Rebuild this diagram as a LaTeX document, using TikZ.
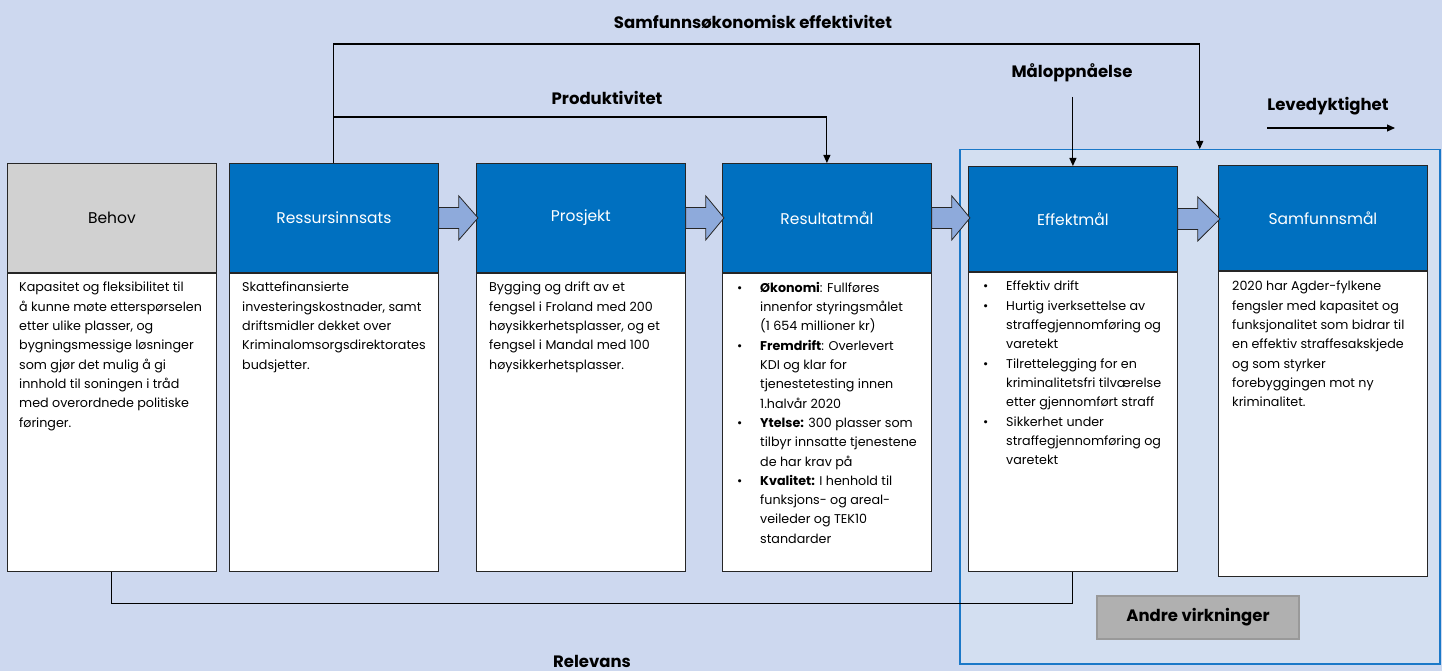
\documentclass[tikz,border=0pt]{standalone}
\usepackage{fontspec}
\setmainfont{Poppins}
\newfontfamily\lblfont{Poppins}
\usetikzlibrary{arrows.meta,calc}
\definecolor{bgc}{HTML}{CDD8EF}
\definecolor{innerbg}{HTML}{D3DFF1}
\definecolor{frameblue}{HTML}{1A78C8}
\definecolor{hdrblue}{HTML}{0070C0}
\definecolor{hdrgray}{HTML}{D1D1D1}
\definecolor{arrfill}{HTML}{8EAADB}
\definecolor{andregray}{HTML}{B0B0B0}
\definecolor{andreborder}{HTML}{999999}
\newcommand\blockarr[2]{%
  \draw[blockarrow] ($(#1.east)+(0,-10.5)$) -- ++(20,0) -- ++(0,-11.5)
    -- ($(#1.east -| #2.west)+(2,0)$) -- ($(#1.east)+(20,22)$) -- ++(0,-11.5)
    -- ($(#1.east)+(0,10.5)$) -- cycle;}
\begin{document}
\begin{tikzpicture}[x=1pt,y=-1pt,
  hdr/.style={draw=black!85, line width=0.8pt, fill=hdrblue, text=white,
    minimum width=209pt, font=\fontsize{15.5}{18}\selectfont, anchor=north west, inner sep=0pt},
  hdrg/.style={hdr, fill=hdrgray, text=black},
  bodybox/.style={draw=black!85, line width=0.8pt, fill=white, minimum width=209pt, anchor=north, inner sep=0pt},
  btext/.style={anchor=north west, inner sep=0pt, align=left, font=\fontsize{12.7}{19.3}\selectfont},
  blockarrow/.style={draw=black!85, line width=0.8pt, fill=arrfill},
  conn/.style={draw=black, line width=1.1pt, -{Triangle[length=8pt,width=7pt]}},
  plain/.style={draw=black, line width=1.1pt},
  lbl/.style={font=\lblfont\bfseries\fontsize{16.5}{19}\selectfont, inner sep=0pt},
  andre/.style={draw=andreborder, line width=1.2pt, fill=andregray, minimum width=202pt,
    minimum height=43pt, font=\lblfont\bfseries\fontsize{16.5}{19}\selectfont}
]
\useasboundingbox (0,0) rectangle (1442,671);
\fill[bgc] (0,0) rectangle (1442,671);

\node[draw=frameblue, line width=1.5pt, fill=innerbg, minimum width=480pt, minimum height=514pt,
  anchor=north west, inner sep=0pt] (blue) at (959,149) {};

% headers
\node[hdrg, minimum height=109pt] (h1) at (7,163) {Behov};
\node[hdr, minimum height=109pt] (h2) at (229,163) {Ressursinnsats};
\node[hdr, minimum height=109pt] (h3) at (476,163) {Prosjekt};
\node[hdr, minimum height=109pt] (h4) at (722,163) {Resultatmål};
\node[hdr, minimum height=105pt] (h5) at (968,166) {Effektmål};
\node[hdr, minimum height=105pt] (h6) at (1218,165) {Samfunnsmål};

% bodies
\node[bodybox, minimum height=298pt] (b1) at (h1.south) {};
\node[bodybox, minimum height=298pt] (b2) at (h2.south) {};
\node[bodybox, minimum height=298pt] (b3) at (h3.south) {};
\node[bodybox, minimum height=298pt] (b4) at (h4.south) {};
\node[bodybox, minimum height=299pt] (b5) at (h5.south) {};
\node[bodybox, minimum height=305pt] (b6) at (h6.south) {};

\node[btext] (t1) at (19,282) {Kapasitet og fleksibilitet til\\å kunne møte etterspørselen\\etter ulike plasser, og\\bygningsmessige løsninger\\som gjør det mulig å gi\\innhold til soningen i tråd\\med overordnede politiske\\føringer.};
\node[btext] (t2) at (242,282) {Skattefinansierte\\investeringskostnader, samt\\driftsmidler dekket over\\Kriminalomsorgsdirektorates\\budsjetter.};
\node[btext] (t3) at (489,282) {Bygging og drift av et\\fengsel i Froland med 200\\høysikkerhetsplasser, og et\\fengsel i Mandal med 100\\høysikkerhetsplasser.};
\node[btext] (t4) at (760,282) {\llap{\makebox[23pt][l]{•}}\textbf{Økonomi}: Fullføres\\innenfor styringsmålet\\(1 654 millioner kr)\\\llap{\makebox[23pt][l]{•}}\textbf{Fremdrift}: Overlevert\\KDI og klar for\\tjenestetesting innen\\1.halvår 2020\\\llap{\makebox[23pt][l]{•}}\textbf{Ytelse:} 300 plasser som\\tilbyr innsatte tjenestene\\de har krav på\\\llap{\makebox[23pt][l]{•}}\textbf{Kvalitet:} I henhold til\\funksjons- og areal-\\veileder og TEK10\\standarder};
\node[btext] (t5) at (1006,281) {\llap{\makebox[23pt][l]{•}}Effektiv drift\\\llap{\makebox[23pt][l]{•}}Hurtig iverksettelse av\\straffegjennomføring og\\varetekt\\\llap{\makebox[23pt][l]{•}}Tilrettelegging for en\\kriminalitetsfri tilværelse\\etter gjennomført straff\\\llap{\makebox[23pt][l]{•}}Sikkerhet under\\straffegjennomføring og\\varetekt};
\node[btext] (t6) at (1232,281) {2020 har Agder-fylkene\\fengsler med kapasitet og\\funksjonalitet som bidrar til\\en effektiv straffesakskjede\\og som styrker\\forebyggingen mot ny\\kriminalitet.};

% block arrows
\blockarr{h2}{h3}
\blockarr{h3}{h4}
\blockarr{h4}{h5}
\blockarr{h5}{h6}

% connectors
\draw[conn] (h2.north) -- ++(0,-119) -| (blue.north);
\draw[conn] ($(h2.north)+(0,-46)$) -| (h4.north);
\coordinate (mo) at ($(h5.north)+(0,-69)$);
\draw[conn] (mo) -- (h5.north);
\draw[plain] (b1.south) -- ++(0,32) -| (b5.south);
\coordinate (lv1) at (1267,128);
\coordinate (lv2) at (1395,128);
\draw[conn] (lv1) -- (lv2);

% labels
\node[lbl] (l1) at (753,22) {Samfunnsøkonomisk effektivitet};
\node[lbl] (l2) at (607,98) {Produktivitet};
\node[lbl] (l3) at (1072,73) {Måloppnåelse};
\node[lbl] (l4) at (1328,106) {Levedyktighet};
\node[lbl] (l5) at (592,661) {Relevans};

\node[andre] (av) at (1198,617.5) {Andre virkninger};
\end{tikzpicture}
\end{document}
